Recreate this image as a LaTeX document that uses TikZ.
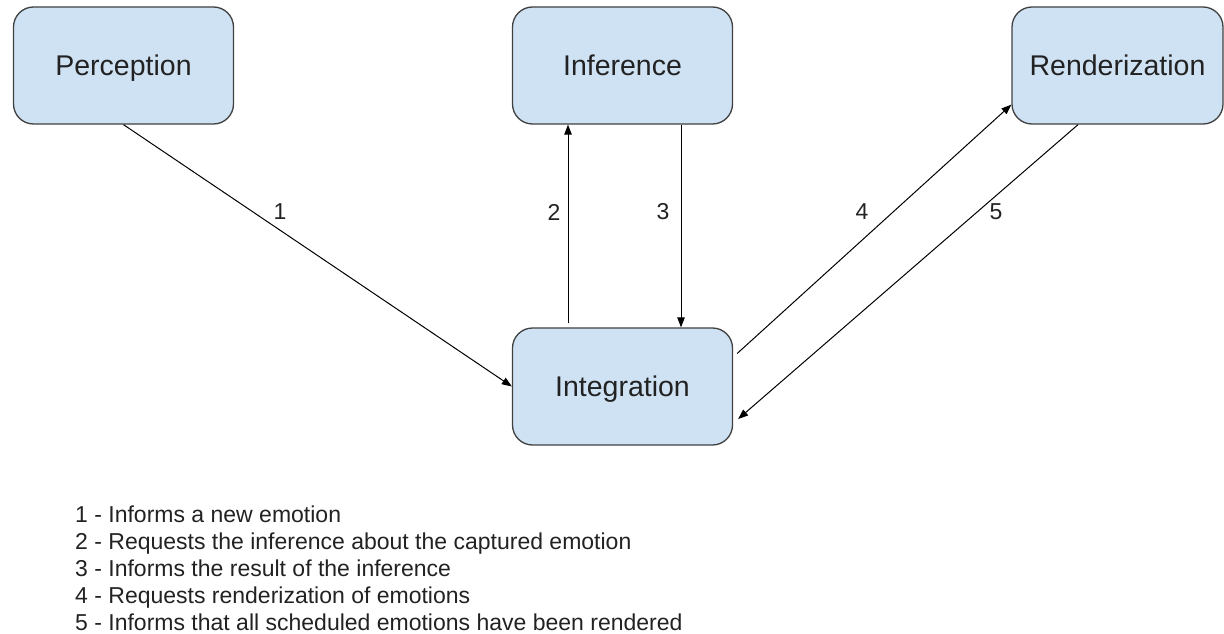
\documentclass[tikz,border=0pt]{standalone}
\usepackage{fontspec}
\setmainfont{Liberation Sans}
\usetikzlibrary{arrows.meta}
\definecolor{boxblue}{HTML}{CFE2F3}
\definecolor{boxline}{HTML}{404040}
\definecolor{ink}{HTML}{222222}

\begin{document}
\begin{tikzpicture}[x=1pt, y=-1pt, ink,
	module/.style={draw=boxline, fill=boxblue, line width=1.3pt, rounded corners=20pt, minimum width=220pt, minimum height=117pt, inner sep=0pt, text height=20.5pt, text depth=0pt, font=\fontsize{28.5}{34}\selectfont},
	msg/.style={-{Triangle[length=10pt,width=7.5pt]}, line width=1pt, black},
	num/.style={font=\fontsize{23}{27}\selectfont},
	legend/.style={anchor=base west, inner sep=0pt, font=\fontsize{23}{28}\selectfont}]
	\useasboundingbox (0,0) rectangle (1224,634);

	%modules
	\node[module] (perc) at (123.5, 65.5){Perception};
	\node[module] (infer) at (622.5, 65.5){Inference};
	\node[module, minimum width=211pt] (rend) at (1117.5, 65.5){Renderization};
	\node[module] (integ) at (622.5, 386.5){Integration};

	%messages
	\draw[msg] (perc.south) -- (integ.west);
	\draw[msg] ([xshift=-54.5pt, yshift=4pt]integ.north) -- ([xshift=-54.5pt]infer.south);
	\draw[msg] ([xshift=58.5pt]infer.south) -- ([xshift=58.5pt]integ.north);
	\draw[msg] ([xshift=4pt, yshift=33pt]integ.east) -- ([yshift=20pt]rend.south west);
	\draw[msg] ([xshift=-39.5pt]rend.south) -- ([xshift=5pt, yshift=-32.5pt]integ.east);

	\node[num] (n1) at (280, 212){1};
	\node[num] (n2) at (554, 212){2};
	\node[num] (n3) at (663, 212){3};
	\node[num] (n4) at (862, 212){4};
	\node[num] (n5) at (996, 212){5};

	%legend
	\foreach \i/\txt in {1/Informs a new emotion,
		2/Requests the inference about the captured emotion,
		3/Informs the result of the inference,
		4/Requests renderization of emotions,
		5/Informs that all scheduled emotions have been rendered}{
		\node[legend] (leg\i) at (75, {522+27*(\i-1)}){\i\ - \txt};
	}
\end{tikzpicture}
\end{document}
